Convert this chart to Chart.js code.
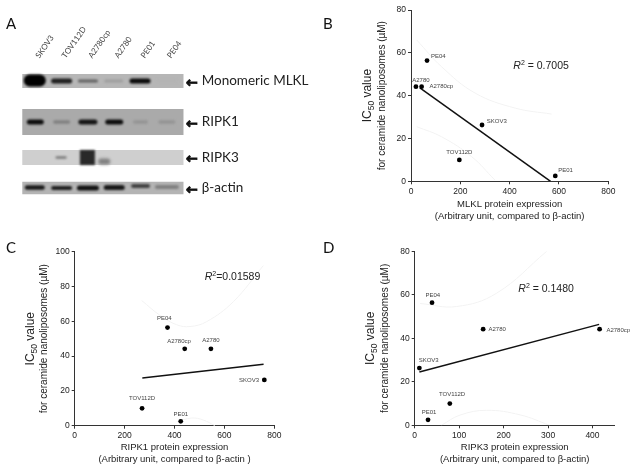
<!DOCTYPE html>
<html><head><meta charset="utf-8">
<style>html,body{margin:0;padding:0;background:#fff}canvas{position:absolute;display:block}</style>
<script src="https://cdn.jsdelivr.net/npm/chart.js@4"></script>
</head><body>
<canvas id="pa" width="320" height="235" style="left:0;top:0"></canvas>
<canvas id="pb" width="317" height="225" style="left:320px;top:0"></canvas>
<canvas id="pc" width="320" height="236" style="left:0;top:235px"></canvas>
<canvas id="pd" width="317" height="236" style="left:320px;top:235px"></canvas>
<script>
// ---------- DATA ----------
const lanes = ['SKOV3','TOV112D','A2780cp','A2780','PE01','PE04'];
const blotNames = ['Monomeric MLKL','RIPK1','RIPK3','β-actin'];
const mlklBands  = [1.00,0.88,0.62,0.38,0.96,0.30];
const ripk1Bands = [0.95,0.50,0.92,0.95,0.42,0.42];
const ripk3Bands = [0,0.52,0.84,0.50,0,0];
const actinBands = [0.90,0.88,0.93,0.90,0.75,0.50];

const cellLines = ['SKOV3','TOV112D','A2780cp','A2780','PE01','PE04'];
const ic50 = [26.3,10,44.2,44.2,2.5,56.4];
const mlklExpr  = [288,196,43,20,585,65];
const ripk1Expr = [760,270,441,546,425,372];
const ripk3Expr = [10.5,79,416,154,30,39];

const fitB = [[36,43.6],[566,0]];
const fitC = [[271,27.4],[757,35.3]];
const fitD = [[10.5,24.5],[415,46.4]];
const upperB = [[23,66],[124,53.5],[260,41.2],[422,34.2],[570,31.4]];
const lowerB = [[23,25.5],[124,20.8],[246,11.5],[340,0.6]];
const upperC = [[268,72],[342,63.4],[409,58],[462,57],[529,59.8],[636,71.3],[756,92]];
const lowerC = [[409,2.3],[469,4.4],[515,3.3],[562,0]];
const upperD = [[12,56],[94,54.6],[184,60.7],[297,80]];
const lowerD = [[60,0],[102,4.7],[162,6.9],[237,4.8],[304,0]];

const ticksB = {x:[0,200,400,600,800], y:[0,20,40,60,80]};
const ticksC = {x:[0,200,400,600,800], y:[0,20,40,60,80,100]};
const ticksD = {x:[0,100,200,300,400], y:[0,20,40,60,80]};

// ---------- STYLE / LAYOUT ----------
const SANS = '"Liberation Sans", Arial, sans-serif';
const CAL = 'Lato, sans-serif';
const toXY = a => a.map(p => ({x:p[0], y:p[1]}));

function richText(items){
  return {id:'richText', afterDraw(chart){
    const c = chart.ctx;
    for(const it of items){
      c.save();
      c.translate(it.x, it.y);
      if(it.rot) c.rotate(it.rot);
      c.textBaseline='alphabetic';
      c.textAlign='left';
      c.fillStyle = it.color || '#222';
      c.strokeStyle = it.color || '#222';
      let w=0;
      for(const r of it.runs){ c.font=r.font; w+=c.measureText(r.t).width; }
      let x = it.center ? -w/2 : 0;
      for(const r of it.runs){
        c.font=r.font; c.fillText(r.t, x, (it.base||0)+(r.dy||0));
        if(r.stroke){ c.lineWidth=r.stroke; c.strokeText(r.t, x, (it.base||0)+(r.dy||0)); }
        x+=c.measureText(r.t).width;
      }
      c.restore();
    }
  }};
}
function pointLabels(names, offsets){
  return {id:'pointLabels', afterDatasetsDraw(chart){
    const c = chart.ctx, pts = chart.getDatasetMeta(0).data;
    c.save();
    c.font='6px '+SANS; c.fillStyle='#444'; c.textAlign='center'; c.textBaseline='middle';
    names.forEach((n,i)=> c.fillText(n, pts[i].x+offsets[i][0], pts[i].y+offsets[i][1]));
    c.restore();
  }};
}
function panelLetter(t,x,y){ return {x,y,runs:[{t,font:'15px '+CAL}],color:'#111'}; }
function icTitle(x,y){
  return {x,y,rot:-Math.PI/2,center:true,color:'#222',base:0,runs:[
    {t:'IC',font:'12px '+SANS},{t:'50',font:'8.5px '+SANS,dy:3},{t:' value',font:'12px '+SANS}]};
}
function r2(x,y,rest){
  return {x,y,color:'#222',runs:[
    {t:'R',font:'italic 10.5px '+SANS},{t:'2',font:'7px '+SANS,dy:-4},{t:rest,font:'10.5px '+SANS}]};
}

function scatterPanel(id,cfg){
  const [W,H]=[cfg.W,cfg.H];
  const curve = (d)=>({data:toXY(d),showLine:true,pointRadius:0,borderColor:'#f3f3f3',borderWidth:1,tension:0.4,fill:false});
  const axis = (ticks)=>({
    type:'linear',
    afterBuildTicks(s){ s.ticks = ticks.map(v=>({value:v})); },
    grid:{drawOnChartArea:false,drawTicks:true,tickLength:3,color:'#333'},
    border:{color:'#333',width:1},
  });
  new Chart(document.getElementById(id),{
    type:'scatter',
    data:{datasets:[
      {data:cfg.x.map((v,i)=>({x:v,y:ic50[i]})),pointRadius:2.4,pointBackgroundColor:'#000',pointBorderWidth:0,showLine:false,order:0},
      {data:toXY(cfg.fit),showLine:true,pointRadius:0,borderColor:'#111',borderWidth:1.5,order:1},
      Object.assign(curve(cfg.upper),{order:2}),
      Object.assign(curve(cfg.lower),{order:2}),
    ]},
    options:{
      responsive:false,animation:false,
      layout:{padding:{left:0,top:cfg.top,right:W-cfg.right,bottom:0}},
      plugins:{legend:{display:false},tooltip:{enabled:false}},
      scales:{
        x:Object.assign(axis(cfg.ticks.x),{
          min:0,max:cfg.xMax,
          afterFit(s){ s.height=H-cfg.bottom; },
          ticks:{color:'#222',font:{family:SANS,size:8.5},padding:2,maxRotation:0,includeBounds:false},
          title:{display:true,text:cfg.xTitle,color:'#222',font:{family:SANS,size:9.5,lineHeight:1.3},padding:{top:0,bottom:cfg.titleBottom}},
        }),
        y:Object.assign(axis(cfg.ticks.y),{
          min:0,max:cfg.yMax,
          afterFit(s){ s.width=cfg.left; },
          ticks:{color:'#222',font:{family:SANS,size:8.5},padding:2,includeBounds:false},
          title:{display:true,text:'for ceramide nanoliposomes (µM)',color:'#222',font:{family:SANS,size:10,lineHeight:1.2},padding:{top:cfg.subX,bottom:0}},
        }),
      }
    },
    plugins:[pointLabels(cellLines,cfg.offsets),richText(cfg.text)]
  });
}

scatterPanel('pb',{
  W:317,H:225,left:91,right:288.3,top:10,bottom:181.3,xMax:800,yMax:80,
  x:mlklExpr,fit:fitB,upper:upperB,lower:lowerB,ticks:ticksB,titleBottom:2,subX:56,
  xTitle:['MLKL protein expression','(Arbitrary unit, compared to β-actin)'],
  offsets:[[14.7,-3.7],[0,-7.7],[19.7,0],[5,-6.3],[10.3,-6],[11.3,-4.3]],
  text:[panelLetter('B',3,29),icTitle(51,95.6),r2(193.3,69,' = 0.7005')]
});
scatterPanel('pc',{
  W:320,H:236,left:74.7,right:274.3,top:16.7,bottom:190.7,xMax:800,yMax:100,
  x:ripk1Expr,fit:fitC,upper:upperC,lower:lowerC,ticks:ticksC,titleBottom:5,subX:38,
  xTitle:['RIPK1 protein expression','(Arbitrary unit, compared to β-actin )'],
  offsets:[[-15.3,0.7],[0,-9.7],[-5.7,-7.3],[0,-8.3],[0,-6.7],[-3.3,-9]],
  text:[panelLetter('C',6,18),icTitle(34,103.7),r2(204.7,45,'=0.01589')]
});
scatterPanel('pd',{
  W:317,H:236,left:94.7,right:294.7,top:16.3,bottom:190.3,xMax:450,yMax:80,
  x:ripk3Expr,fit:fitD,upper:upperD,lower:lowerD,ticks:ticksD,titleBottom:5,subX:59,
  xTitle:['RIPK3 protein expression','(Arbitrary unit, compared to β-actin)'],
  offsets:[[9.3,-7.7],[2.3,-9.3],[18.7,0.7],[14,0],[1,-7.3],[0.7,-7]],
  text:[panelLetter('D',3,18),icTitle(54,103.3),r2(198.3,57,' = 0.1480')]
});

// ---------- PANEL A ----------
const rowCentre = [81,122,157.5,188];
const stripLook = [{h:14,c:'#b6b6b6'},{h:26,c:'#aaaaaa'},{h:15,c:'#cfcfcf'},{h:12.5,c:'#b4b4b4'}];
const blotRows = [mlklBands,ripk1Bands,ripk3Bands,actinBands];
const UNIT = 26.3;
// width px, thickness px, centre-x shift (lanes), centre-y shift px, blur, cap for each band
const bandLook = [
 [[22,12,-0.02,-0.5,1,'round'],[21,5,0,0,1,'round'],[20,3,0,0,1,'round'],[19,3,-0.02,0,1.2,'round'],[21,5,-0.02,0,.8,'round'],[21,3,0,0,1.2,'round']],
 [[17,5,0,0,.8,'round'],[17,3.5,0,0,1,'round'],[19,5,0,0,.8,'round'],[18,5,0,0,.8,'round'],[15,3.5,0,0,1,'round'],[17,3.5,0,0,1,'round']],
 [null,[11,2.5,-0.02,0,.9,'round'],[15,15,-0.02,0,1.3,'butt'],[12,6,-0.38,4,1.6,'round'],null,null],
 [[20,4.5,-0.02,-.5,.8,'round'],[21,4,0,0,.8,'round'],[22,5,0,0,.8,'round'],[21,5,0,-.5,.8,'round'],[19,4,0,-2,.8,'round'],[24,4,0,-1,1,'round']],
];
const aSets=[];
blotRows.forEach((row,r)=>{
  aSets.push({data:[{x:-0.5,y:rowCentre[r]},{x:5.64,y:rowCentre[r]}],showLine:true,pointRadius:0,
    borderColor:stripLook[r].c,borderWidth:stripLook[r].h,borderCapStyle:'butt',blur:0,order:10});
});
blotRows.forEach((row,r)=>{
  row.forEach((v,i)=>{
    const L=bandLook[r][i];
    if(!v||!L) return;
    const g=Math.round(255*(1-v));
    const half=(L[5]==='round'?(L[0]-L[1]):L[0])/2/UNIT;
    const cx=i+L[2], cy=rowCentre[r]+L[3];
    aSets.push({data:[{x:cx-half,y:cy},{x:cx+half,y:cy}],showLine:true,pointRadius:0,
      borderColor:`rgb(${g},${g},${g})`,borderWidth:L[1],borderCapStyle:L[5],blur:L[4],order:1});
  });
});
const blurPlugin={id:'blur',
  beforeDatasetDraw(chart,a){ const b=chart.data.datasets[a.index].blur; chart.ctx.save(); if(b) chart.ctx.filter=`blur(${b}px)`; },
  afterDatasetDraw(chart){ chart.ctx.restore(); }
};
const arrows = rowCentre.map(y=>({x:186,y:y+5.5,color:'#111',runs:[{t:'←',font:'bold 14px "DejaVu Sans"',stroke:0.9}]}));
new Chart(document.getElementById('pa'),{
  type:'scatter',
  data:{datasets:aSets},
  options:{
    responsive:false,animation:false,
    layout:{padding:{left:22.15,right:0,top:0,bottom:35}},
    plugins:{legend:{display:false},tooltip:{enabled:false}},
    scales:{
      x:{type:'linear',position:'top',min:-0.5,max:5.64,
        afterBuildTicks(s){ s.ticks=lanes.map((_,i)=>({value:i})); },
        afterFit(s){ s.height=70; },
        grid:{display:false},border:{display:false},
        ticks:{color:'#444',font:{family:CAL,size:8},minRotation:55,maxRotation:55,padding:2,labelOffset:10,autoSkip:false,
          includeBounds:false,callback:(v)=>lanes[v]}},
      y:{type:'linear',position:'right',min:70,max:200,reverse:true,
        afterBuildTicks(s){ s.ticks=rowCentre.map(v=>({value:v})); },
        afterFit(s){ s.width=320-183.7; },
        grid:{display:false},border:{display:false},
        ticks:{color:'#222',font:{family:CAL,size:13.5},padding:10,autoSkip:false,includeBounds:false,
          callback:(v)=>blotNames[rowCentre.indexOf(v)]}},
    }
  },
  plugins:[blurPlugin,richText([panelLetter('A',6,29)].concat(arrows))]
});
</script>
</body></html>
